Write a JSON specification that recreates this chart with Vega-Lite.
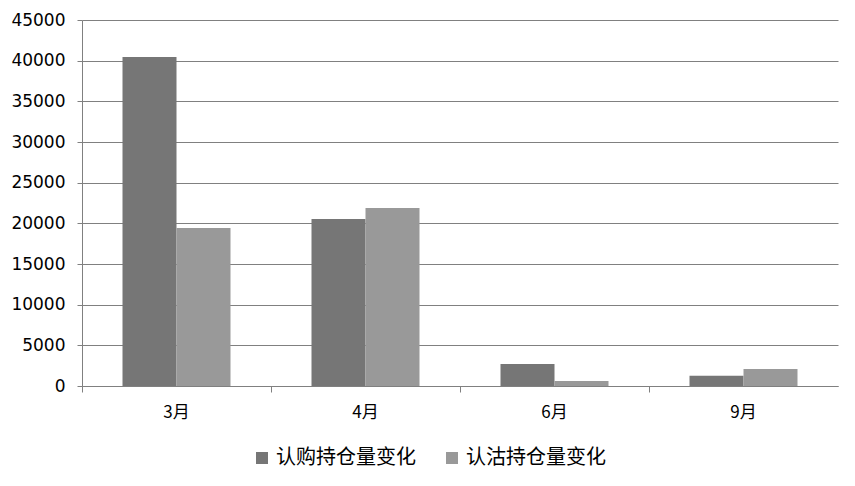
{
  "$schema": "https://vega.github.io/schema/vega-lite/v6.json",
  "autosize": "none",
  "width": 756,
  "height": 366,
  "padding": {"left": 82, "top": 20, "right": 17, "bottom": 100},
  "background": "white",
  "data": {
    "values": [
      {"month": "3月", "series": "认购持仓量变化", "value": 40450},
      {"month": "3月", "series": "认沽持仓量变化", "value": 19430},
      {"month": "4月", "series": "认购持仓量变化", "value": 20530},
      {"month": "4月", "series": "认沽持仓量变化", "value": 21890},
      {"month": "6月", "series": "认购持仓量变化", "value": 2700},
      {"month": "6月", "series": "认沽持仓量变化", "value": 600},
      {"month": "9月", "series": "认购持仓量变化", "value": 1250},
      {"month": "9月", "series": "认沽持仓量变化", "value": 2100}
    ]
  },
  "mark": {"type": "bar"},
  "encoding": {
    "x": {
      "field": "month",
      "type": "nominal",
      "sort": ["3月", "4月", "6月", "9月"],
      "scale": {"paddingInner": 0, "paddingOuter": 0},
      "axis": {
        "title": null,
        "labelAngle": 0,
        "bandPosition": 0,
        "tickSize": 6,
        "labelPadding": 12,
        "labelFont": "Noto Sans CJK SC",
        "labelFontSize": 17
      }
    },
    "xOffset": {
      "field": "series",
      "type": "nominal",
      "sort": ["认购持仓量变化", "认沽持仓量变化"],
      "scale": {"paddingInner": 0, "paddingOuter": 0.75}
    },
    "y": {
      "field": "value",
      "type": "quantitative",
      "scale": {"domain": [0, 45000], "nice": false},
      "axis": {
        "title": null,
        "values": [0, 5000, 10000, 15000, 20000, 25000, 30000, 35000, 40000, 45000],
        "format": "d",
        "tickSize": 5,
        "labelPadding": 12,
        "labelFont": "DejaVu Sans",
        "labelFontSize": 17
      }
    },
    "color": {
      "field": "series",
      "type": "nominal",
      "sort": ["认购持仓量变化", "认沽持仓量变化"],
      "scale": {"range": ["#767676", "#999999"]},
      "legend": {
        "title": null,
        "orient": "none",
        "direction": "horizontal",
        "legendX": 170,
        "legendY": 428,
        "symbolType": "square",
        "symbolSize": 144,
        "symbolStrokeWidth": 0,
        "labelFont": "Noto Sans CJK SC",
        "labelFontSize": 20,
        "labelColor": "#000000",
        "labelOffset": 4,
        "columnPadding": 26
      }
    }
  },
  "config": {
    "view": {"stroke": null},
    "axis": {
      "domainColor": "#808080",
      "tickColor": "#808080",
      "gridColor": "#808080",
      "gridOpacity": 1,
      "labelColor": "#000000",
      "domainWidth": 1,
      "tickWidth": 1
    },
    "axisX": {"grid": false},
    "axisY": {"grid": true}
  }
}
